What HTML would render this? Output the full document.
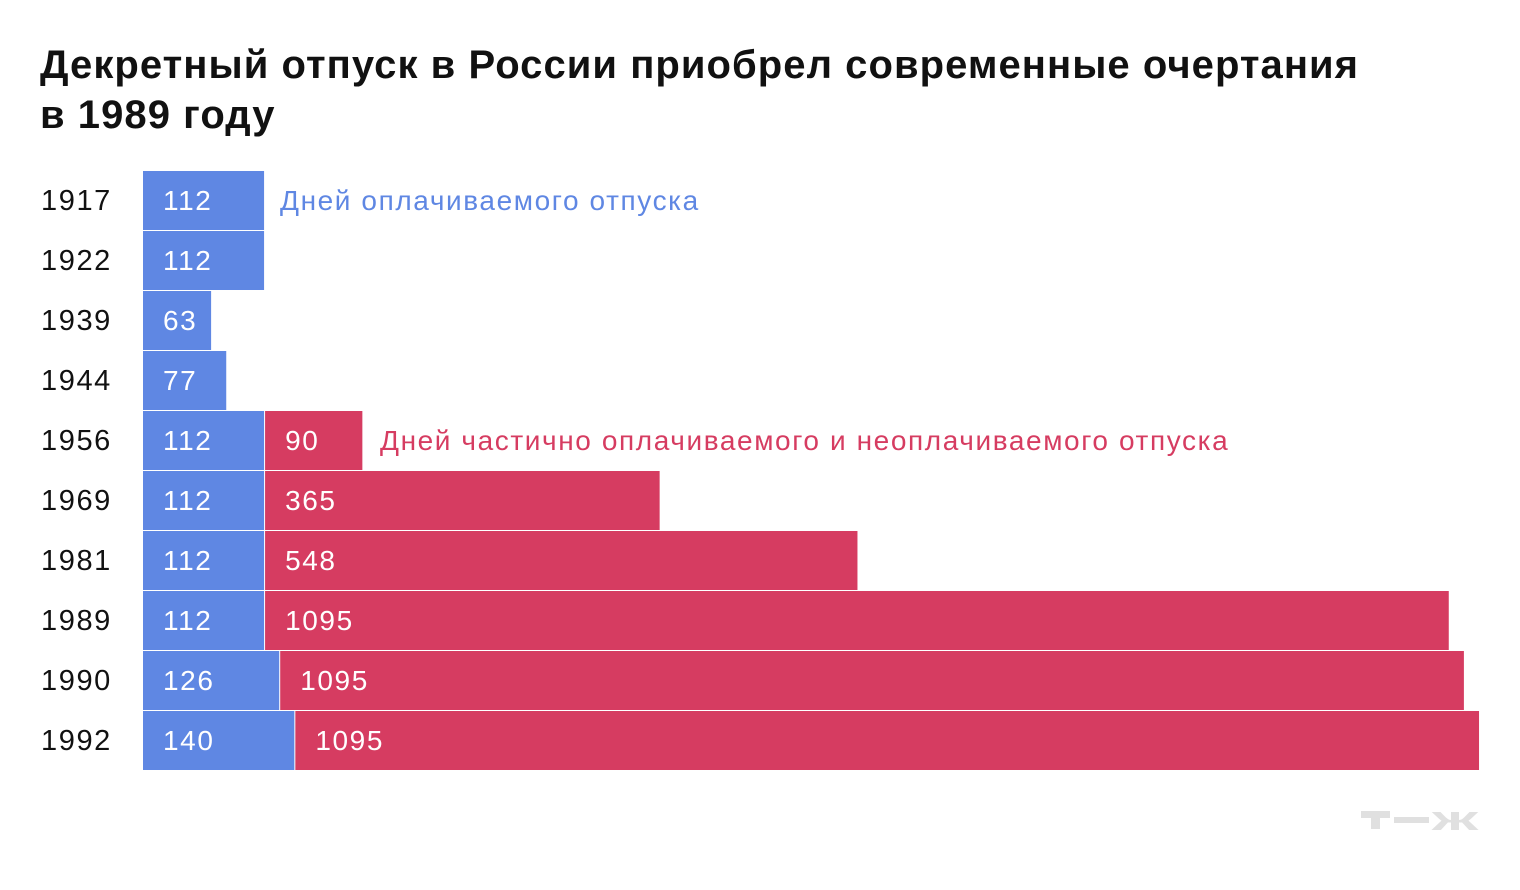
<!DOCTYPE html>
<html><head><meta charset="utf-8"><style>
body{margin:0;width:1520px;height:890px;background:#fff;font-family:"Liberation Sans","Noto Sans CJK SC",sans-serif;overflow:hidden;position:relative}
h1{position:absolute;left:40px;top:40px;margin:0;font-size:40px;line-height:50px;font-weight:bold;color:#111;letter-spacing:1.05px}
svg{position:absolute;left:0;top:0}
svg text{letter-spacing:1.6px}
</style></head><body>
<h1>Декретный отпуск в России приобрел современные очертания<br>в 1989 году</h1>
<svg id="c" width="1520" height="890">
<g fill="#e0e0e0">
<rect x="1361" y="811" width="29" height="7"/><rect x="1371" y="811" width="9" height="18"/>
<rect x="1394" y="817" width="35" height="6"/>
<text x="1432" y="830" font-size="34" font-weight="bold" fill="#e0e0e0" textLength="46" lengthAdjust="spacingAndGlyphs" style="letter-spacing:0">ж</text>
</g>
</svg>
<script>
const years=["1917","1922","1939","1944","1956","1969","1981","1989","1990","1992"];
const paid=[112,112,63,77,112,112,112,112,126,140];
const unpaid=[0,0,0,0,90,365,548,1095,1095,1095];
const svg=document.getElementById('c');const NS='http://www.w3.org/2000/svg';
const x0=143,k=1.081,top0=171,pitch=60,h=59;
function sx(v){return v*k;}
function mk(t,a){const e=document.createElementNS(NS,t);for(const n in a)e.setAttribute(n,a[n]);svg.appendChild(e);return e;}
years.forEach((y,i)=>{
 const yt=top0+i*pitch;
 const l=mk('text',{x:41,y:yt+39,'font-size':29,fill:'#111'});l.textContent=y;
 
 
 const wb=sx(paid[i]);
 const b=mk('rect',{x:x0,y:yt,width:wb,height:h,fill:'#5f87e3'});
 
 
 const t=mk('text',{x:x0+20,y:yt+39,'font-size':28,fill:'#fff'});t.textContent=paid[i];
 
 
 if(unpaid[i]>0){
  const rx=x0+wb+1;
  const r=mk('rect',{x:rx,y:yt,width:sx(unpaid[i]),height:h,fill:'#d63c61'});
  
  
  const t2=mk('text',{x:rx+20,y:yt+39,'font-size':28,fill:'#fff'});t2.textContent=unpaid[i];
  
  
 }
});
const a=mk('text',{x:280,y:210,'font-size':28,fill:'#5f87e3'});a.textContent='Дней оплачиваемого отпуска';


const b2=mk('text',{x:380,y:450,'font-size':28,fill:'#d63c61'});b2.textContent='Дней частично оплачиваемого и неоплачиваемого отпуска';


</script>
</body></html>
